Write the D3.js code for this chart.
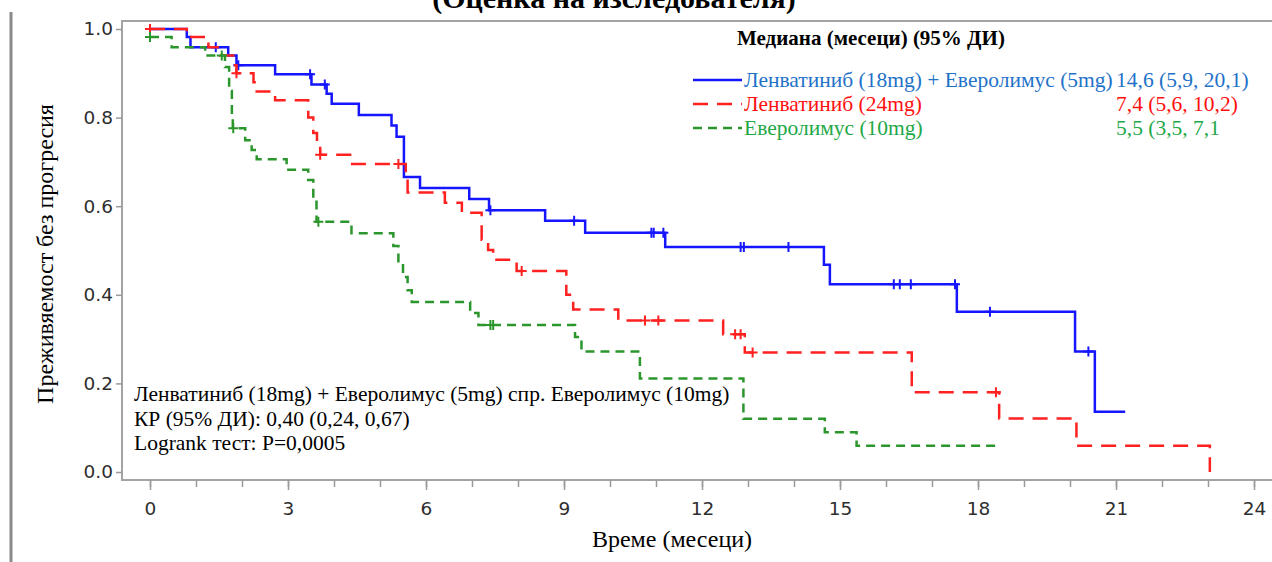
<!DOCTYPE html>
<html>
<head>
<meta charset="utf-8">
<script src="https://cdn.jsdelivr.net/npm/d3@7"></script>
<style>
  body { margin: 0; background: #fff; }
  svg { display: block; }
</style>
</head>
<body>
<script>
// Ленватиниб (18mg) + Еверолимус (5mg)
var comboTimes = [0, 0.8, 0.88, 1.7, 1.88, 2.72, 3.51, 3.84, 3.95, 4.54, 5.25, 5.36, 5.52, 5.87, 6.94, 7.37, 8.59, 9.46, 11.2, 14.65, 14.78, 17.54, 20.11, 20.54];
var comboSurv  = [1.0, 0.982, 0.959, 0.94, 0.918, 0.898, 0.875, 0.854, 0.831, 0.806, 0.782, 0.757, 0.666, 0.641, 0.616, 0.591, 0.567, 0.54, 0.508, 0.468, 0.424, 0.362, 0.272, 0.136];
var comboEnd = 21.2;
var comboCensor = [1.43, 1.92, 3.48, 3.8, 7.4, 9.22, 10.9, 10.95, 11.16, 12.84, 12.91, 13.88, 16.17, 16.3, 16.54, 17.5, 18.26, 20.4];

// Ленватиниб (24mg)
var lenvTimes = [0, 0.8, 1.27, 1.52, 1.85, 1.88, 2.25, 2.32, 2.72, 3.44, 3.55, 3.63, 3.7, 4.35, 5.56, 5.6, 6.41, 6.78, 7.21, 7.35, 7.46, 7.97, 9.05, 9.2, 10.18, 12.46, 12.93, 16.56, 18.46, 20.14, 23.04];
var lenvSurv  = [1.0, 0.982, 0.959, 0.94, 0.918, 0.9, 0.88, 0.859, 0.839, 0.8, 0.765, 0.74, 0.716, 0.695, 0.663, 0.631, 0.608, 0.585, 0.524, 0.501, 0.479, 0.454, 0.4, 0.367, 0.342, 0.311, 0.27, 0.18, 0.121, 0.059, 0];
var lenvEnd = 23.04;
var lenvCensor = [0, 1.88, 3.7, 5.4, 8.08, 10.76, 11.05, 12.72, 12.84, 13.1, 18.39];

// Еверолимус (10mg)
var everTimes = [0, 0.47, 1.2, 1.63, 1.72, 1.78, 1.8, 2.07, 2.21, 2.32, 2.97, 3.44, 3.55, 3.62, 4.38, 5.29, 5.4, 5.5, 5.6, 5.69, 6.96, 7.14, 9.24, 9.38, 10.65, 12.9, 14.67, 15.36];
var everSurv  = [0.982, 0.959, 0.94, 0.914, 0.86, 0.8, 0.776, 0.749, 0.727, 0.706, 0.682, 0.659, 0.61, 0.565, 0.539, 0.51, 0.47, 0.44, 0.41, 0.384, 0.359, 0.332, 0.305, 0.272, 0.211, 0.12, 0.09, 0.059];
var everEnd = 18.48;
var everCensor = [0, 1.56, 1.81, 3.66, 7.4, 7.46];

var xTicks = [0, 3, 6, 9, 12, 15, 18, 21, 24];
var xMinorTicks = d3.range(0, 25);
var yTicks = [0, 0.2, 0.4, 0.6, 0.8, 1.0];

var legendNames = ["Ленватиниб (18mg) + Еверолимус (5mg)", "Ленватиниб (24mg)", "Еверолимус (10mg)"];
var legendMedians = ["14,6 (5,9, 20,1)", "7,4 (5,6, 10,2)", "5,5 (3,5, 7,1"];
var noteLines = ["Ленватиниб (18mg) + Еверолимус (5mg) спр. Еверолимус (10mg)",
                 "КР (95% ДИ): 0,40 (0,24, 0,67)",
                 "Logrank тест: P=0,0005"];

var width = 1272, height = 562;
var serif = "'Liberation Serif', 'Times New Roman', serif";
var sans = "'DejaVu Sans', Verdana, sans-serif";

var series = [
  {times: comboTimes, surv: comboSurv, end: comboEnd, censor: comboCensor, line: "#1515ff", text: "#1f72c8", dash: null},
  {times: lenvTimes, surv: lenvSurv, end: lenvEnd, censor: lenvCensor, line: "#ff2020", text: "#ff1010", dash: "15,9"},
  {times: everTimes, surv: everSurv, end: everEnd, censor: everCensor, line: "#2b962b", text: "#1fa848", dash: "9,6"}
];

var svg = d3.select('body').append('svg')
            .attr('width', width)
            .attr('height', height);

var x = d3.scaleLinear().domain([0, 24]).range([150, 1254]);
var y = d3.scaleLinear().domain([0, 1]).range([472, 29]);

var frameLeft = 122, frameTop = 21, frameBottom = 480;

// page border on the left
svg.append('line')
   .attr('x1', 11).attr('x2', 11).attr('y1', 12).attr('y2', height)
   .attr('stroke', '#8a8a8a').attr('stroke-width', 3);

// title (cut at the top)
svg.append('text')
   .attr('x', 614).attr('y', 8)
   .attr('text-anchor', 'middle')
   .style('font', "bold 30px " + serif)
   .text("(Оценка на изследователя)");

// frame
svg.append('path')
   .attr('d', "M" + (width + 5) + "," + frameTop + "H" + frameLeft + "V" + frameBottom + "H" + (width + 5))
   .attr('fill', 'none')
   .attr('stroke', '#a3a3a3')
   .attr('stroke-width', 2);

// axes
var xAxis = d3.axisBottom(x).tickValues(xTicks).tickSize(10).tickFormat(d3.format("d"));
var xMinor = d3.axisBottom(x).tickValues(xMinorTicks).tickSize(7).tickFormat("");
var yAxis = d3.axisLeft(y).tickValues(yTicks).tickSize(6).tickFormat(d3.format(".1f"));

function styleAxis(g) {
  g.select(".domain").remove();
  g.selectAll(".tick line").attr("stroke", "#9a9a9a").attr("stroke-width", 1.5);
  g.selectAll(".tick text").attr("fill", "#2e2e2e").style("font", "18.5px " + sans);
}

svg.append('g').attr('transform', 'translate(0,' + frameBottom + ')').call(xMinor).call(styleAxis);
svg.append('g').attr('transform', 'translate(0,' + frameBottom + ')').call(xAxis).call(styleAxis)
   .selectAll('.tick text').attr('y', 22).attr('dy', '0.71em');
svg.append('g').attr('transform', 'translate(' + frameLeft + ',0)').call(yAxis).call(styleAxis)
   .selectAll('.tick text').attr('x', -9);

// axis titles
svg.append('text')
   .attr('x', 672).attr('y', 547)
   .attr('text-anchor', 'middle')
   .style('font', "24px " + serif)
   .text("Време (месеци)");
svg.append('text')
   .attr('transform', 'translate(53,254) rotate(-90)')
   .attr('text-anchor', 'middle')
   .style('font', "24px " + serif)
   .text("Преживяемост без прогресия");

// curves
var stepLine = d3.line()
  .x(function(d){ return x(d[0]); })
  .y(function(d){ return y(d[1]); })
  .curve(d3.curveStepAfter);

function survAt(s, t) {
  var i = d3.bisectRight(s.times, t) - 1;
  return s.surv[Math.max(i, 0)];
}

var plot = svg.append('g');
series.forEach(function(s) {
  var pts = s.times.map(function(t, i){ return [t, s.surv[i]]; });
  if (s.end > s.times[s.times.length - 1]) pts.push([s.end, s.surv[s.surv.length - 1]]);
  plot.append('path')
      .attr('d', stepLine(pts))
      .attr('fill', 'none')
      .attr('stroke', s.line)
      .attr('stroke-width', 2.5)
      .attr('stroke-dasharray', s.dash);
  plot.selectAll(null)
      .data(s.censor)
      .enter()
      .append('path')
      .attr('d', function(t){
        var cx = x(t), cy = y(survAt(s, t));
        return "M" + (cx - 5) + "," + cy + "H" + (cx + 5) + "M" + cx + "," + (cy - 5) + "V" + (cy + 5);
      })
      .attr('stroke', s.line)
      .attr('stroke-width', 2);
});

// legend
var legend = svg.append('g');
legend.append('text')
   .attr('x', 737).attr('y', 45)
   .style('font', "bold 21px " + serif)
   .text("Медиана (месеци) (95% ДИ)");
series.forEach(function(s, i) {
  var ly = 80 + i * 24;
  legend.append('line')
     .attr('x1', 693).attr('x2', 742).attr('y1', ly).attr('y2', ly)
     .attr('stroke', s.line).attr('stroke-width', 2.5)
     .attr('stroke-dasharray', s.dash);
  legend.append('text')
     .attr('x', 744).attr('y', ly + 7)
     .attr('fill', s.text)
     .style('font', "21.5px " + serif)
     .text(legendNames[i]);
  legend.append('text')
     .attr('x', 1116).attr('y', ly + 7)
     .attr('fill', s.text)
     .style('font', "21.5px " + serif)
     .text(legendMedians[i]);
});

// note
svg.selectAll('.note')
   .data(noteLines)
   .enter()
   .append('text')
   .attr('class', 'note')
   .attr('x', 134)
   .attr('y', function(d, i){ return 401 + i * 24.5; })
   .style('font', "21.5px " + serif)
   .text(function(d){ return d; });
</script>
</body>
</html>
